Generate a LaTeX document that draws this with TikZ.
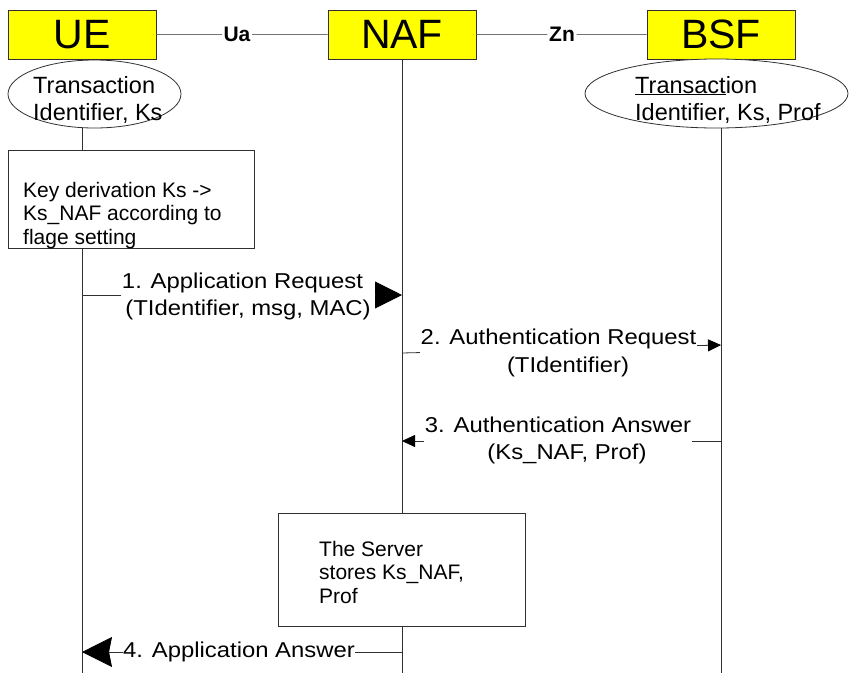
\documentclass[tikz,border=0pt]{standalone}
\usepackage{fontspec}
\setmainfont{Liberation Sans}
\newfontfamily\msgfont{Liberation Sans}[FakeStretch=1.11]
\usetikzlibrary{shapes.geometric,arrows.meta}
\definecolor{hdryellow}{HTML}{FFFF00}
\definecolor{ink}{HTML}{303030}

\begin{document}
\begin{tikzpicture}[x=1pt,y=-1pt,
  hdr/.style={draw=ink, line width=0.9pt, fill=hdryellow, minimum width=148pt,
    minimum height=49pt, inner sep=0pt, font=\fontsize{41}{45}\selectfont},
  ifl/.style={inner sep=1.5pt, font=\bfseries\fontsize{21}{24}\selectfont},
  iface/.style={draw=black!55, line width=0.8pt},
  life/.style={draw=ink, line width=0.8pt},
  state/.style={ellipse, draw=ink, line width=0.8pt, fill=white, inner sep=0pt},
  memo/.style={inner sep=0pt, align=left, font=\fontsize{23.5}{27}\selectfont},
  note/.style={draw=ink, line width=0.8pt, fill=white, inner sep=0pt},
  notetext/.style={inner sep=0pt, align=left, font=\fontsize{21}{23.5}\selectfont},
  msg/.style={fill=white, inner xsep=0.5pt, inner ysep=1pt, align=center,
    font=\msgfont\fontsize{21.5}{27.5}\selectfont},
  bigarrow/.style={life, -{Stealth[length=30pt,width=30pt,inset=3pt,color=black]}},
  smallarrow/.style={life, -{Triangle[length=13pt,width=12pt,color=black]}}]

\useasboundingbox (0,0) rectangle (849,673);

% entities
\node[hdr] (ue)  at (82,34.5)  {UE};
\node[hdr] (naf) at (402,34.5) {NAF};
\node[hdr] (bsf) at (721,34.5) {BSF};

% reference points
\coordinate (bottom) at (0,673);

% interfaces
\node[ifl, anchor=base] (ua) at (237,41.7) {Ua};
\node[ifl, anchor=base] (zn) at (562,41.7) {Zn};
\draw[iface] (ue) -- (ua);
\draw[iface] (ua) -- (naf);
\draw[iface] (naf) -- (zn);
\draw[iface] (zn) -- (bsf);

% lifelines
\draw[life] (ue.south)  -- (ue.south |- bottom);
\draw[life] (naf.south) -- (naf.south |- bottom);
\draw[life] (bsf.south) -- (bsf.south |- bottom);

% stored state (multi-line texts sit on the baseline of their last line)
\node[state, minimum width=173pt, minimum height=68pt] (uestore) at (94.5,94) {};
\node[memo, anchor=base west] (uestoretext) at (33,120) {Transaction\\Identifier, Ks};
\node[state, minimum width=263pt, minimum height=69pt] (bsfstore) at (716.5,93.5) {};
\node[memo, anchor=base west] (bsfstoretext) at (635,120)
  {\underline{Transact}ion\\Identifier, Ks, Prof};

% key derivation
\node[note, minimum width=246pt, minimum height=98pt] (keybox) at (131,199) {};
\node[notetext, anchor=base west] (keytext) at (23,244)
  {Key derivation Ks ->\\Ks\_NAF according to\\flage setting};

% server storage
\node[note, minimum width=247pt, minimum height=113pt] (srvbox) at (401.5,569.5) {};
\node[notetext, anchor=base west] (srvtext) at (319,603)
  {The Server\\stores Ks\_NAF,\\Prof};

% messages
\draw[bigarrow] (ue.south |- 0,295) -- (naf.south |- 0,295);
\node[msg, anchor=base] (msg1) at (248,315.5)
  {1. Application Request\hspace*{11pt}\\(TIdentifier, msg, MAC)};

\draw[smallarrow] (naf.south |- 0,353) -- (bsf.south |- 0,345);
\node[msg, anchor=base] (msg2) at (558.5,372)
  {2. Authentication Request\\\hspace*{19pt}(TIdentifier)};

\draw[smallarrow] (bsf.south |- 0,441) -- (naf.south |- 0,441);
\node[msg, anchor=base] (msg3) at (558,459.5)
  {3. Authentication Answer\\\hspace*{18pt}(Ks\_NAF, Prof)};

\draw[bigarrow] (naf.south |- 0,652) -- (ue.south |- 0,652);
\node[msg, anchor=base] (msg4) at (239,657) {4. Application Answer};
\end{tikzpicture}
\end{document}
